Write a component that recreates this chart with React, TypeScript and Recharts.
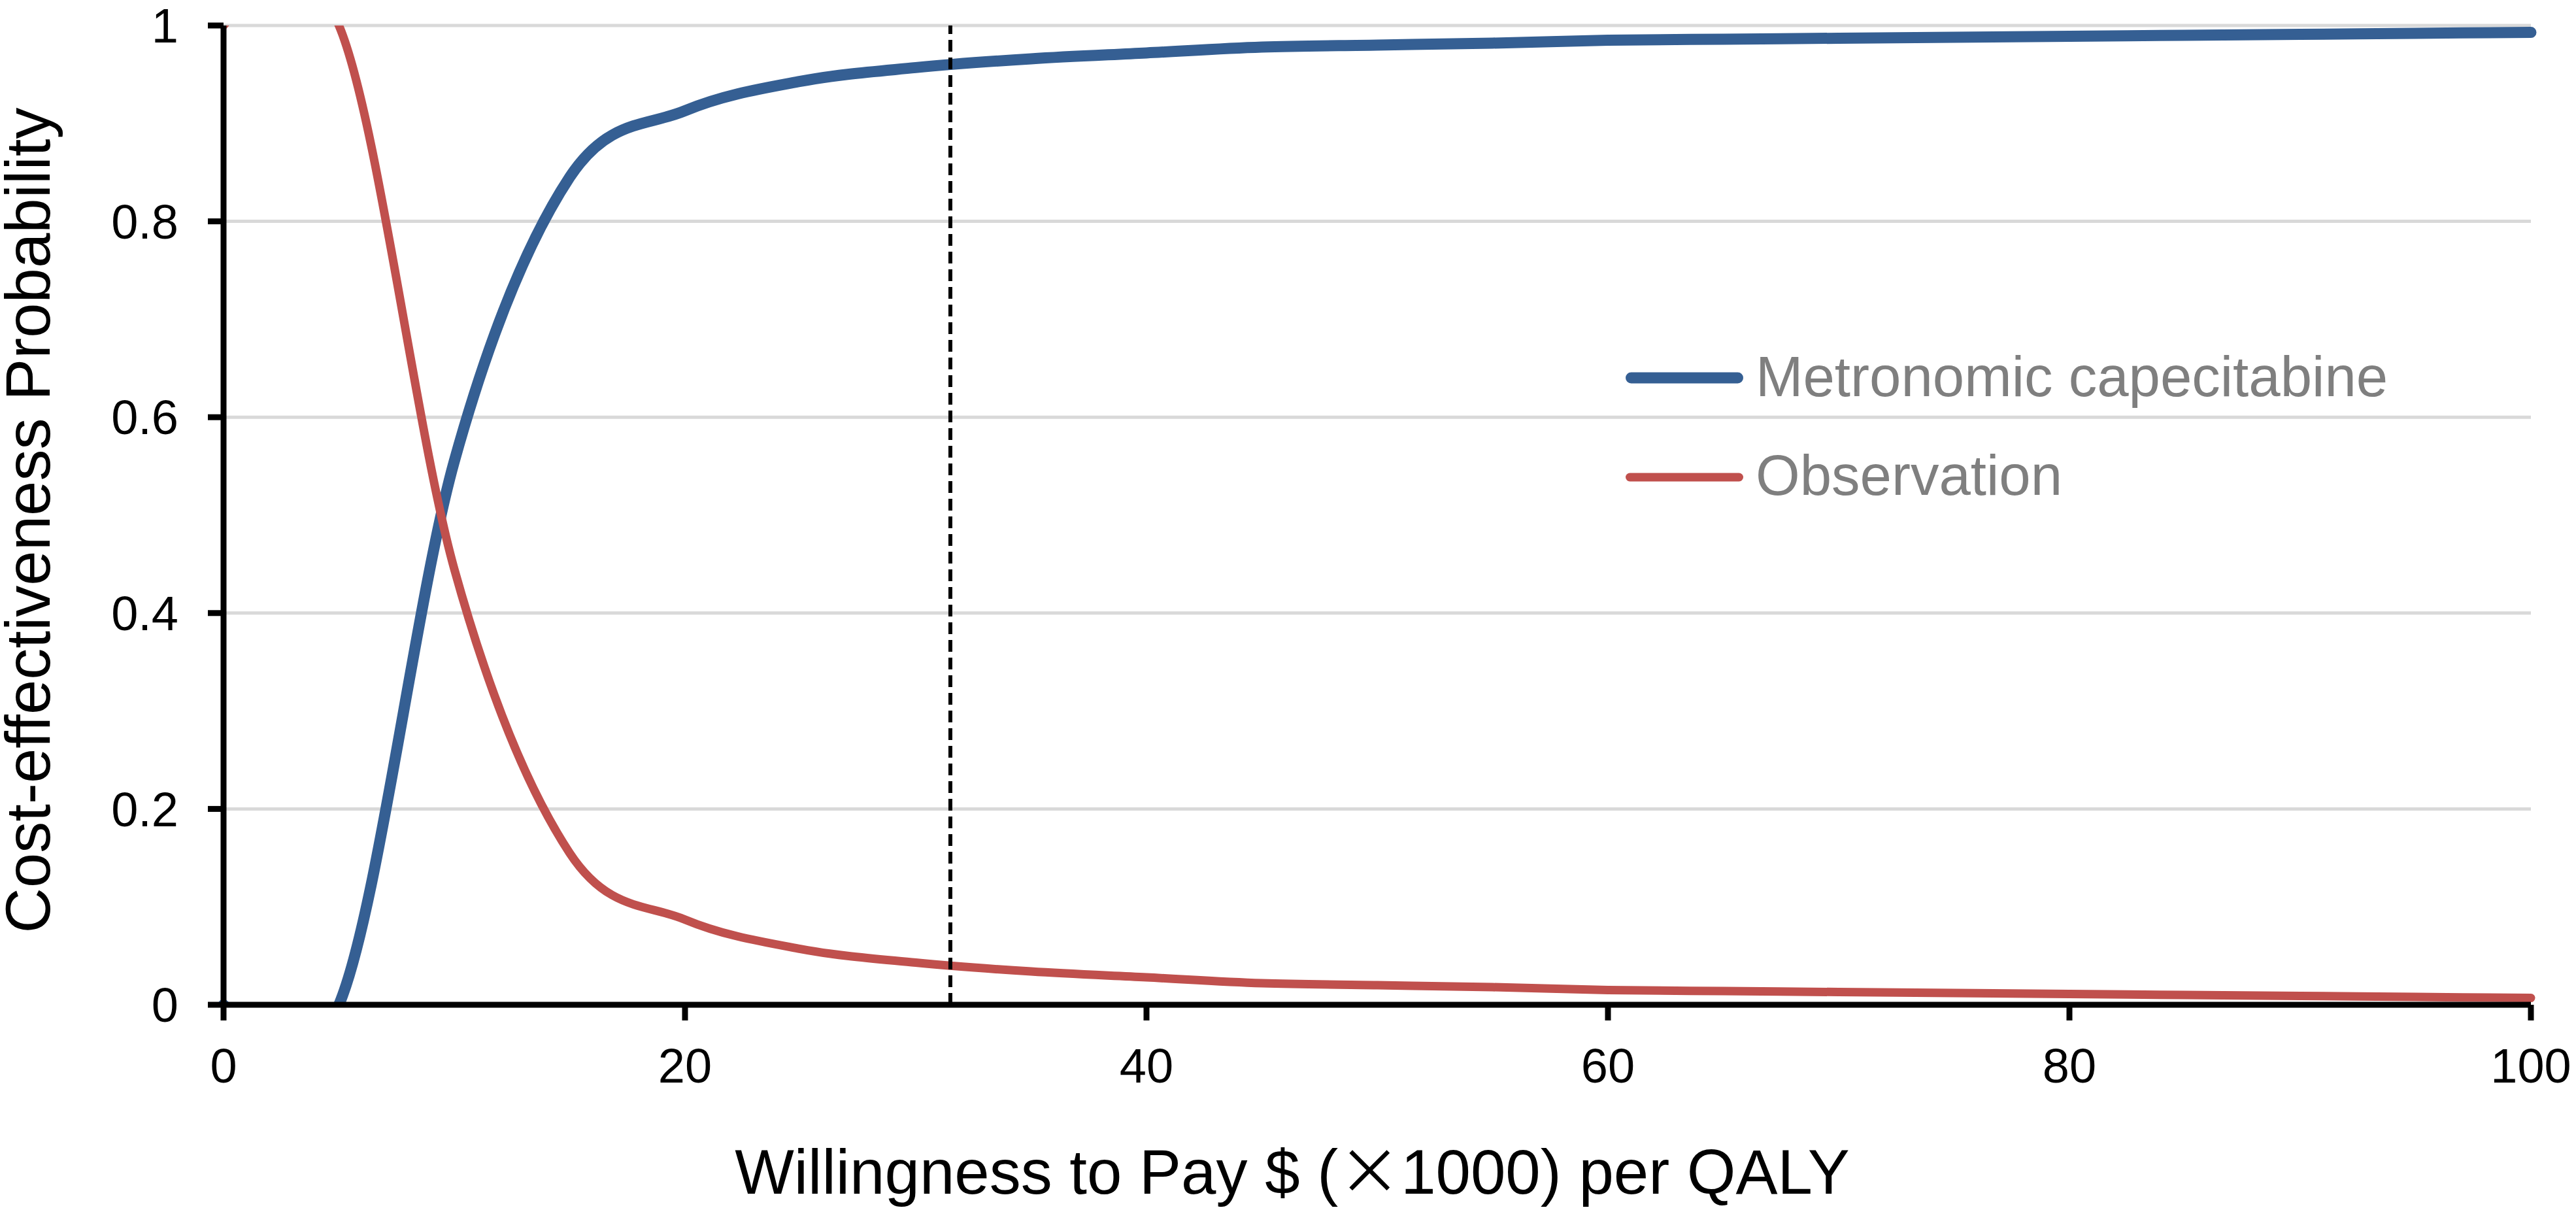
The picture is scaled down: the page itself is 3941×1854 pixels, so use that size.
import React from 'react';
import { LineChart, Line, XAxis, YAxis, CartesianGrid, ReferenceLine, Legend, Label } from 'recharts';

const FONT = '"Liberation Sans", Arial, Helvetica, sans-serif';

// Willingness to pay ($ x1000 per QALY)
const wtpThousands = [0, 5, 10, 15, 20, 25, 30, 35, 40, 45, 50, 55, 60, 65, 70, 75, 80, 85, 90, 95, 100];
// Probability cost-effective: Metronomic capecitabine
const metronomicProb = [0, 0, 0.555, 0.845, 0.913, 0.943, 0.957, 0.966, 0.972, 0.978, 0.98, 0.982, 0.985, 0.986, 0.987, 0.988, 0.989, 0.99, 0.991, 0.992, 0.993];
// Probability cost-effective: Observation
const observationProb = [1, 1, 0.445, 0.155, 0.087, 0.057, 0.043, 0.034, 0.028, 0.022, 0.02, 0.018, 0.015, 0.014, 0.013, 0.012, 0.011, 0.01, 0.009, 0.008, 0.007];

const xTicks = [0, 20, 40, 60, 80, 100];
const yTicks = [0, 0.2, 0.4, 0.6, 0.8, 1];
const yTickLabels = ['0', '0.2', '0.4', '0.6', '0.8', '1'];
const thresholdWTP = 31.5;
const seriesNames = ['Metronomic capecitabine', 'Observation'];
const yTitle = 'Cost-effectiveness Probability';

const data = wtpThousands.map((w, i) => ({
  wtp: w,
  metronomic: metronomicProb[i],
  observation: observationProb[i],
}));

// Catmull-Rom style smoothing (like spreadsheet "smoothed line")
function smoothCurve(context: any) {
  let x0 = NaN, x1 = NaN, x2 = NaN, y0 = NaN, y1 = NaN, y2 = NaN, pt = 0, line = NaN;
  const k = 1 / 6;
  const seg = (x: number, y: number) => {
    context.bezierCurveTo(
      x1 + k * (x2 - x0),
      y1 + k * (y2 - y0),
      x2 + k * (x1 - x),
      y2 + k * (y1 - y),
      x2,
      y2
    );
  };
  return {
    areaStart() { line = 0; },
    areaEnd() { line = NaN; },
    lineStart() { x0 = x1 = x2 = y0 = y1 = y2 = NaN; pt = 0; },
    lineEnd() {
      if (pt === 2) context.lineTo(x2, y2);
      else if (pt === 3) seg(x1, y1);
      if (line || (line !== 0 && pt === 1)) context.closePath();
      line = 1 - line;
    },
    point(x: number, y: number) {
      x = +x; y = +y;
      switch (pt) {
        case 0: pt = 1; if (line) context.lineTo(x, y); else context.moveTo(x, y); break;
        case 1: pt = 2; x1 = x; y1 = y; break;
        case 2: pt = 3; seg(x, y); break;
        default: seg(x, y); break;
      }
      x0 = x1; x1 = x2; x2 = x;
      y0 = y1; y1 = y2; y2 = y;
    },
  };
}

const LegendContent = (props: any) => {
  const payload = props.payload || [];
  const widths = [17, 13];
  return (
    <svg width={1300} height={270} style={{ display: 'block', overflow: 'visible' }}>
      {payload.map((p: any, i: number) => {
        const sw = widths[i] || 13;
        const cy = 58 + i * 152;
        const base = 86 + i * 151;
        return (
          <g key={i}>
            <line x1={sw / 2} x2={180 - sw / 2} y1={cy} y2={cy} stroke={p.color} strokeWidth={sw} strokeLinecap="round" />
            <text x={199} y={base} fontSize={87} fill="#7f7f7f" fontFamily={FONT}>{p.value}</text>
          </g>
        );
      })}
    </svg>
  );
};

const XTitle = () => (
  <text x={1977} y={1826} textAnchor="middle" fontSize={96} fontFamily={FONT} fill="#000">
    Willingness to Pay $ (<tspan fontFamily='"Noto Sans CJK SC", "Noto Sans CJK JP", sans-serif'>×</tspan>1000) per QALY
  </text>
);

const YTitle = () => (
  <text x={76} y={796} transform="rotate(-90 76 796)" textAnchor="middle" fontSize={96} fontFamily={FONT} fill="#000">
    {yTitle}
  </text>
);

export default function App() {
  return (
    <div style={{ position: 'absolute', left: 0, top: 0, background: '#fff' }}>
      <LineChart
        width={3941}
        height={1854}
        data={data}
        margin={{ top: 39, right: 69, bottom: 0, left: 0 }}
      >
        <CartesianGrid horizontal vertical={false} stroke="#d9d9d9" strokeWidth={5} />
        <Line
          type={smoothCurve as any}
          dataKey="metronomic"
          name={seriesNames[0]}
          stroke="#355f93"
          strokeWidth={17}
          strokeLinecap="round"
          strokeLinejoin="round"
          dot={false}
          activeDot={false}
          isAnimationActive={false}
        />
        <Line
          type={smoothCurve as any}
          dataKey="observation"
          name={seriesNames[1]}
          stroke="#c0504d"
          strokeWidth={13}
          strokeLinecap="round"
          strokeLinejoin="round"
          dot={false}
          activeDot={false}
          isAnimationActive={false}
        />
        <ReferenceLine x={thresholdWTP} stroke="#000" strokeWidth={6} strokeDasharray="18 9" />
        <XAxis
          dataKey="wtp"
          type="number"
          domain={[0, 100]}
          ticks={xTicks}
          interval={0}
          height={317}
          tickSize={24}
          tickMargin={42}
          axisLine={{ stroke: '#000', strokeWidth: 9 }}
          tickLine={{ stroke: '#000', strokeWidth: 9 }}
          tick={{ fontSize: 74, fill: '#000', fontFamily: FONT }}
        >
          <Label content={<XTitle />} />
        </XAxis>
        <YAxis
          type="number"
          domain={[0, 1]}
          ticks={yTicks}
          interval={0}
          allowDataOverflow
          width={342}
          tickSize={24}
          tickMargin={45}
          tickFormatter={(v: number) => {
            const idx = yTicks.indexOf(v);
            return idx >= 0 ? yTickLabels[idx] : String(v);
          }}
          axisLine={{ stroke: '#000', strokeWidth: 9 }}
          tickLine={{ stroke: '#000', strokeWidth: 9 }}
          tick={{ fontSize: 74, fill: '#000', fontFamily: FONT }}
        >
          <Label content={<YTitle />} />
        </YAxis>
        <Legend
          layout="vertical"
          align="center"
          verticalAlign="middle"
          content={<LegendContent />}
          wrapperStyle={{ position: 'absolute', left: 2487, top: 520, width: 1300, height: 270 }}
        />
      </LineChart>
    </div>
  );
}
